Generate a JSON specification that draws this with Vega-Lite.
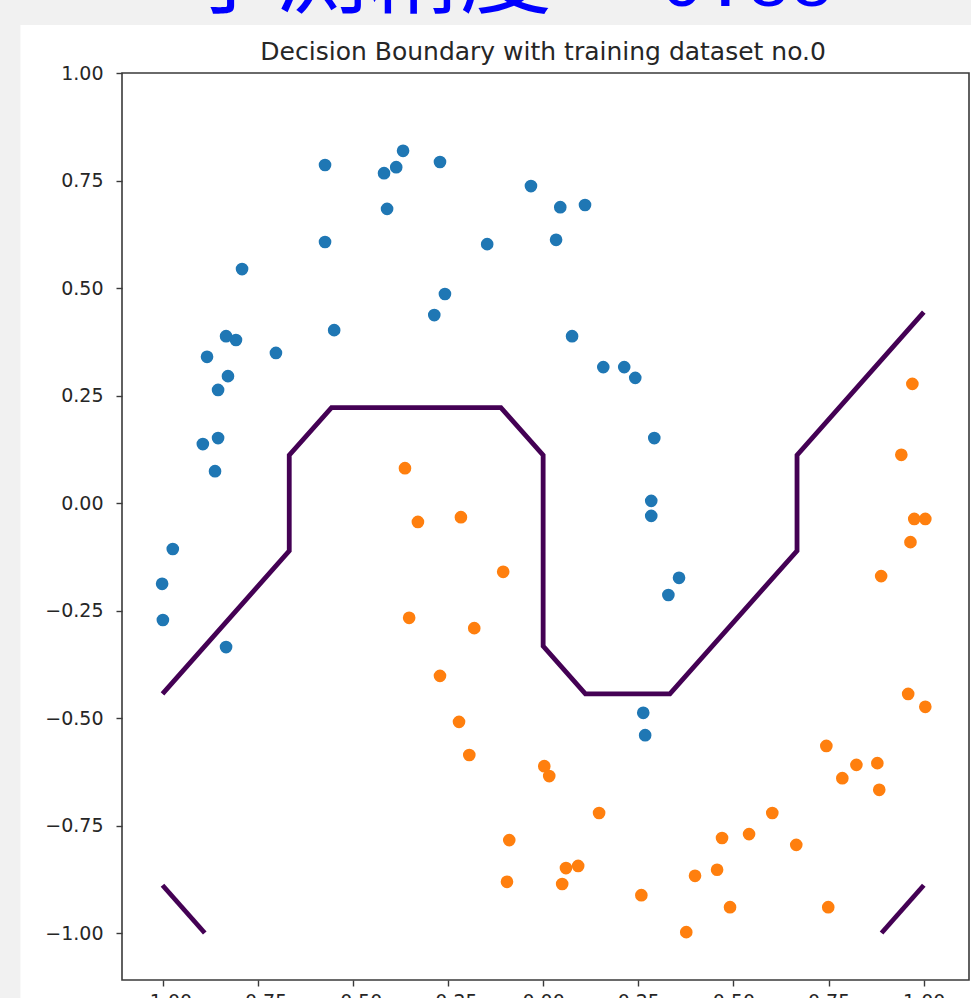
{
  "$schema": "https://vega.github.io/schema/vega-lite/v6.json",
  "autosize": {"type": "none"},
  "width": 847,
  "height": 907,
  "padding": {"left": 122, "top": 73, "right": 2, "bottom": 18},
  "background": "#ffffff",
  "config": {
    "view": {"stroke": "#3a3a3a", "strokeWidth": 1.6},
    "axis": {
      "domain": false,
      "grid": false,
      "tickSize": 6,
      "tickWidth": 1.4,
      "tickColor": "#3a3a3a",
      "labelFont": "DejaVu Sans",
      "labelFontSize": 19,
      "labelColor": "#262626",
      "labelPadding": 13,
      "labelFlush": false,
      "labelOverlap": false
    }
  },
  "datasets": {
    "points": [
      {"x": -1.001, "y": -0.188, "label": "0"},
      {"x": -0.999, "y": -0.272, "label": "0"},
      {"x": -0.973, "y": -0.107, "label": "0"},
      {"x": -0.894, "y": 0.137, "label": "0"},
      {"x": -0.883, "y": 0.340, "label": "0"},
      {"x": -0.862, "y": 0.074, "label": "0"},
      {"x": -0.854, "y": 0.151, "label": "0"},
      {"x": -0.854, "y": 0.263, "label": "0"},
      {"x": -0.833, "y": 0.388, "label": "0"},
      {"x": -0.828, "y": 0.295, "label": "0"},
      {"x": -0.807, "y": 0.379, "label": "0"},
      {"x": -0.791, "y": 0.544, "label": "0"},
      {"x": -0.833, "y": -0.335, "label": "0"},
      {"x": -0.702, "y": 0.349, "label": "0"},
      {"x": -0.573, "y": 0.786, "label": "0"},
      {"x": -0.573, "y": 0.607, "label": "0"},
      {"x": -0.549, "y": 0.402, "label": "0"},
      {"x": -0.418, "y": 0.767, "label": "0"},
      {"x": -0.410, "y": 0.684, "label": "0"},
      {"x": -0.386, "y": 0.781, "label": "0"},
      {"x": -0.368, "y": 0.819, "label": "0"},
      {"x": -0.271, "y": 0.793, "label": "0"},
      {"x": -0.286, "y": 0.437, "label": "0"},
      {"x": -0.258, "y": 0.486, "label": "0"},
      {"x": -0.147, "y": 0.602, "label": "0"},
      {"x": -0.032, "y": 0.737, "label": "0"},
      {"x": 0.034, "y": 0.612, "label": "0"},
      {"x": 0.045, "y": 0.688, "label": "0"},
      {"x": 0.110, "y": 0.693, "label": "0"},
      {"x": 0.076, "y": 0.388, "label": "0"},
      {"x": 0.158, "y": 0.316, "label": "0"},
      {"x": 0.213, "y": 0.316, "label": "0"},
      {"x": 0.242, "y": 0.291, "label": "0"},
      {"x": 0.292, "y": 0.151, "label": "0"},
      {"x": 0.284, "y": 0.005, "label": "0"},
      {"x": 0.284, "y": -0.030, "label": "0"},
      {"x": 0.357, "y": -0.174, "label": "0"},
      {"x": 0.329, "y": -0.214, "label": "0"},
      {"x": 0.263, "y": -0.488, "label": "0"},
      {"x": 0.268, "y": -0.540, "label": "0"},
      {"x": -0.363, "y": 0.081, "label": "1"},
      {"x": -0.329, "y": -0.044, "label": "1"},
      {"x": -0.352, "y": -0.267, "label": "1"},
      {"x": -0.216, "y": -0.033, "label": "1"},
      {"x": -0.105, "y": -0.160, "label": "1"},
      {"x": -0.181, "y": -0.291, "label": "1"},
      {"x": -0.271, "y": -0.402, "label": "1"},
      {"x": -0.221, "y": -0.509, "label": "1"},
      {"x": -0.194, "y": -0.586, "label": "1"},
      {"x": -0.089, "y": -0.784, "label": "1"},
      {"x": -0.095, "y": -0.881, "label": "1"},
      {"x": 0.003, "y": -0.612, "label": "1"},
      {"x": 0.016, "y": -0.635, "label": "1"},
      {"x": 0.060, "y": -0.849, "label": "1"},
      {"x": 0.050, "y": -0.886, "label": "1"},
      {"x": 0.092, "y": -0.844, "label": "1"},
      {"x": 0.147, "y": -0.721, "label": "1"},
      {"x": 0.258, "y": -0.912, "label": "1"},
      {"x": 0.376, "y": -0.998, "label": "1"},
      {"x": 0.399, "y": -0.867, "label": "1"},
      {"x": 0.457, "y": -0.853, "label": "1"},
      {"x": 0.470, "y": -0.779, "label": "1"},
      {"x": 0.491, "y": -0.940, "label": "1"},
      {"x": 0.541, "y": -0.770, "label": "1"},
      {"x": 0.602, "y": -0.721, "label": "1"},
      {"x": 0.665, "y": -0.795, "label": "1"},
      {"x": 0.744, "y": -0.565, "label": "1"},
      {"x": 0.786, "y": -0.640, "label": "1"},
      {"x": 0.823, "y": -0.609, "label": "1"},
      {"x": 0.749, "y": -0.940, "label": "1"},
      {"x": 0.878, "y": -0.605, "label": "1"},
      {"x": 0.883, "y": -0.667, "label": "1"},
      {"x": 0.888, "y": -0.170, "label": "1"},
      {"x": 0.941, "y": 0.112, "label": "1"},
      {"x": 0.959, "y": -0.444, "label": "1"},
      {"x": 0.965, "y": -0.091, "label": "1"},
      {"x": 0.970, "y": 0.277, "label": "1"},
      {"x": 0.975, "y": -0.037, "label": "1"},
      {"x": 1.004, "y": -0.037, "label": "1"},
      {"x": 1.004, "y": -0.474, "label": "1"}
    ],
    "boundary": [
      {"seg": "main", "ord": 0, "x": -1.0, "y": -0.444},
      {"seg": "main", "ord": 1, "x": -0.667, "y": -0.111},
      {"seg": "main", "ord": 2, "x": -0.667, "y": 0.111},
      {"seg": "main", "ord": 3, "x": -0.556, "y": 0.222},
      {"seg": "main", "ord": 4, "x": -0.111, "y": 0.222},
      {"seg": "main", "ord": 5, "x": 0.0, "y": 0.111},
      {"seg": "main", "ord": 6, "x": 0.0, "y": -0.333},
      {"seg": "main", "ord": 7, "x": 0.111, "y": -0.444},
      {"seg": "main", "ord": 8, "x": 0.333, "y": -0.444},
      {"seg": "main", "ord": 9, "x": 0.667, "y": -0.111},
      {"seg": "main", "ord": 10, "x": 0.667, "y": 0.111},
      {"seg": "main", "ord": 11, "x": 1.0, "y": 0.444},
      {"seg": "lowleft", "ord": 0, "x": -1.0, "y": -0.889},
      {"seg": "lowleft", "ord": 1, "x": -0.889, "y": -1.0},
      {"seg": "lowright", "ord": 0, "x": 0.889, "y": -1.0},
      {"seg": "lowright", "ord": 1, "x": 1.0, "y": -0.889}
    ]
  },
  "layer": [
    {
      "description": "grey margin strip on the left of the figure",
      "data": {"values": [{}]},
      "mark": {"type": "rect", "fill": "#f1f1f1", "clip": false},
      "encoding": {
        "x": {"datum": -1.6, "type": "quantitative", "scale": {"domain": [-1.1064, 1.1188], "nice": false, "zero": false}, "title": null},
        "x2": {"datum": -1.3732},
        "y": {"datum": 1.4, "type": "quantitative", "scale": {"domain": [-1.1093, 1.0], "nice": false, "zero": false}, "title": null},
        "y2": {"datum": -1.3}
      }
    },
    {
      "description": "grey margin strip along the top of the figure",
      "data": {"values": [{}]},
      "mark": {"type": "rect", "fill": "#f1f1f1", "clip": false},
      "encoding": {
        "x": {"datum": -1.6, "type": "quantitative", "title": null},
        "x2": {"datum": 1.3},
        "y": {"datum": 1.4, "type": "quantitative", "title": null},
        "y2": {"datum": 1.1116}
      }
    },
    {
      "data": {"name": "boundary"},
      "mark": {"type": "line", "color": "#440154", "strokeWidth": 4.8, "strokeJoin": "miter", "clip": false},
      "encoding": {
        "x": {"field": "x", "type": "quantitative", "scale": {"domain": [-1.1064, 1.1188], "nice": false, "zero": false}, "title": null},
        "y": {"field": "y", "type": "quantitative", "scale": {"domain": [-1.1093, 1.0], "nice": false, "zero": false}, "title": null},
        "detail": {"field": "seg"},
        "order": {"field": "ord", "type": "quantitative"}
      }
    },
    {
      "data": {"name": "points"},
      "mark": {"type": "circle", "size": 160, "opacity": 1},
      "encoding": {
        "x": {
          "field": "x", "type": "quantitative",
          "scale": {"domain": [-1.1064, 1.1188], "nice": false, "zero": false},
          "axis": {"values": [-1, -0.75, -0.5, -0.25, 0, 0.25, 0.5, 0.75, 1], "format": ".2f", "labelPadding": 6},
          "title": null
        },
        "y": {
          "field": "y", "type": "quantitative",
          "scale": {"domain": [-1.1093, 1.0], "nice": false, "zero": false},
          "axis": {"values": [-1, -0.75, -0.5, -0.25, 0, 0.25, 0.5, 0.75, 1], "format": ".2f"},
          "title": null
        },
        "color": {"field": "label", "type": "nominal", "scale": {"domain": ["0", "1"], "range": ["#1f77b4", "#ff7f0e"]}, "legend": null}
      }
    },
    {
      "description": "axes title, set just above the top spine",
      "data": {"values": [{}]},
      "mark": {"type": "text", "font": "DejaVu Sans", "fontSize": 25, "align": "center", "baseline": "alphabetic", "color": "#262626", "clip": false},
      "encoding": {
        "x": {"datum": 0.0, "type": "quantitative", "title": null},
        "y": {"datum": 1.0302, "type": "quantitative", "title": null},
        "text": {"value": "Decision Boundary with training dataset no.0"}
      }
    },
    {
      "data": {"values": [{}]},
      "mark": {"type": "text", "font": "Noto Sans CJK JP", "fontSize": 92, "align": "left", "baseline": "alphabetic", "color": "#0000ff", "clip": false},
      "encoding": {
        "x": {"datum": -0.9435, "type": "quantitative", "title": null},
        "y": {"datum": 1.1558, "type": "quantitative", "title": null},
        "text": {"value": "予測精度"}
      }
    },
    {
      "data": {"values": [{}]},
      "mark": {"type": "text", "font": "Liberation Mono", "fontSize": 72, "align": "left", "baseline": "alphabetic", "color": "#0000ff", "clip": false},
      "encoding": {
        "x": {"datum": 0.0815, "type": "quantitative", "title": null},
        "y": {"datum": 1.1558, "type": "quantitative", "title": null},
        "text": {"value": "= 0.88"}
      }
    }
  ]
}
